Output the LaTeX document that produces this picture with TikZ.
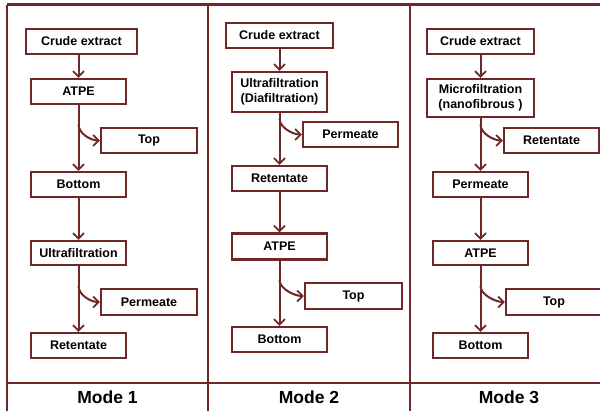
\documentclass[tikz,border=0pt]{standalone}
\usepackage{fontspec}
\setmainfont{Liberation Sans}
\usetikzlibrary{arrows.meta}
\definecolor{maroon}{RGB}{110,40,40}
\begin{document}
\begin{tikzpicture}[x=1pt,y=-1pt,
  box/.style={draw=maroon,line width=2.3pt,fill=white,inner sep=0pt,align=center,
    font=\bfseries\fontsize{12.5}{15}\selectfont,text=black},
  flow/.style={draw=maroon,line width=2pt,-{Straight Barb[length=5.5pt,width=11pt,line width=1.8pt]}},
  frame/.style={draw=maroon,line width=2.2pt},
  modelabel/.style={font=\bfseries\fontsize{17.5}{20}\selectfont,text=black}]
\useasboundingbox (0,0) rectangle (600,410);
\clip (0,0) rectangle (600,410);
% frame
\draw[frame] (7,4.5) -- (610,4.5);
\draw[frame] (7,383) -- (610,383);
\draw[frame] (7,4.5) -- (7,412);
\draw[frame] (208,4.5) -- (208,412);
\draw[frame] (410,4.5) -- (410,412);
\node[modelabel] (m1) at (107.5,397) {Mode 1};
\node[modelabel] (m2) at (309,397) {Mode 2};
\node[modelabel] (m3) at (509,397) {Mode 3};
% panel 1
\node[box,minimum width=111pt,minimum height=25pt] (c1) at (81.5,41.5) {Crude extract};
\node[box,minimum width=95pt,minimum height=25pt] (a1) at (78.5,91.5) {ATPE};
\node[box,minimum width=96pt,minimum height=25pt] (t1) at (149,140.5) {Top};
\node[box,minimum width=95pt,minimum height=25pt] (b1) at (78.5,184.5) {Bottom};
\node[box,minimum width=95pt,minimum height=24pt] (u1) at (78.5,253) {Ultrafiltration};
\node[box,minimum width=96pt,minimum height=26pt] (p1) at (149,302) {Permeate};
\node[box,minimum width=95pt,minimum height=25pt] (r1) at (78.5,345.5) {Retentate};
% panel 2
\node[box,minimum width=107pt,minimum height=25pt] (c2) at (279.5,35.5) {Crude extract};
\node[box,minimum width=95pt,minimum height=40pt] (u2) at (279.5,92) {Ultrafiltration\\(Diafiltration)};
\node[box,minimum width=95pt,minimum height=25pt] (p2) at (350.5,134.5) {Permeate};
\node[box,minimum width=95pt,minimum height=25pt] (r2) at (279.5,178.5) {Retentate};
\node[box,minimum width=95pt,minimum height=26pt] (a2) at (279.5,246.5) {ATPE};
\node[box,minimum width=97pt,minimum height=26pt] (t2) at (353.5,296) {Top};
\node[box,minimum width=95pt,minimum height=25pt] (b2) at (279.5,339.5) {Bottom};
% panel 3
\node[box,minimum width=107pt,minimum height=25pt] (c3) at (480.5,41.5) {Crude extract};
\node[box,minimum width=107pt,minimum height=38pt] (f3) at (480.5,98) {Microfiltration\\(nanofibrous )};
\node[box,minimum width=95pt,minimum height=25pt] (r3) at (551.5,140.5) {Retentate};
\node[box,minimum width=95pt,minimum height=25pt] (p3) at (480.5,184.5) {Permeate};
\node[box,minimum width=95pt,minimum height=24pt] (a3) at (480.5,253) {ATPE};
\node[box,minimum width=96pt,minimum height=26pt] (t3) at (554,302) {Top};
\node[box,minimum width=95pt,minimum height=25pt] (b3) at (480.5,345.5) {Bottom};
% connectors panel 1
\draw[flow] (c1.south -| a1.north) -- (a1.north);
\draw[flow] (a1.south) -- (b1.north);
\draw[flow] (b1.south) -- (u1.north);
\draw[flow] (u1.south) -- (r1.north);
% connectors panel 2
\draw[flow] (c2.south) -- (u2.north);
\draw[flow] (u2.south) -- (r2.north);
\draw[flow] (r2.south) -- (a2.north);
\draw[flow] (a2.south) -- (b2.north);
% connectors panel 3
\draw[flow] (c3.south) -- (f3.north);
\draw[flow] (f3.south) -- (p3.north);
\draw[flow] (p3.south) -- (a3.north);
\draw[flow] (a3.south) -- (b3.north);
% branches
\foreach \up/\tgt in {a1/t1,u1/p1,u2/p2,a2/t2,f3/r3,a3/t3}{
  \draw[flow] (\tgt.west -| \up.south) ++(0,-16) .. controls +(0,9) and +(-9,0) .. (\tgt.west);
}
\end{tikzpicture}
\end{document}
